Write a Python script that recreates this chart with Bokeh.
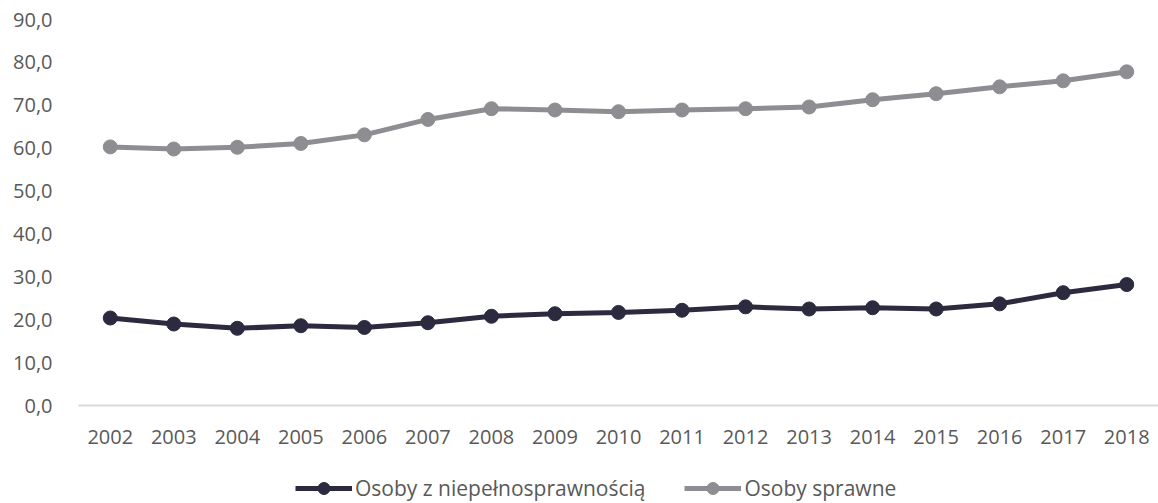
from bokeh.plotting import figure
from bokeh.layouts import column
from bokeh.models import FixedTicker, Legend, LegendItem, Range1d, FactorRange
from bokeh.embed import file_html
from bokeh.resources import INLINE

# Employment rate series, 2002-2018 (%)
years = ["2002", "2003", "2004", "2005", "2006", "2007", "2008", "2009", "2010",
         "2011", "2012", "2013", "2014", "2015", "2016", "2017", "2018"]
disabled = [20.4, 19.0, 18.0, 18.6, 18.2, 19.3, 20.8, 21.4, 21.7,
            22.2, 23.0, 22.5, 22.8, 22.5, 23.7, 26.3, 28.2]
able = [60.3, 59.8, 60.2, 61.1, 63.1, 66.7, 69.2, 68.9, 68.5,
        68.9, 69.2, 69.6, 71.3, 72.7, 74.3, 75.7, 77.8]
y_ticks = [0, 10, 20, 30, 40, 50, 60, 70, 80, 90]

label_disabled = "Osoby z niepełnosprawnością"
label_able = "Osoby sprawne"

dark = "#2c2a3e"
grey = "#8e8d92"
text_col = "#595959"
font = "Open Sans"

# ---- main chart ----
p = figure(width=1158, height=458, x_range=FactorRange(*years),
           y_range=Range1d(0, 90), output_backend="svg", toolbar_location=None,
           min_border_left=78, min_border_right=0, min_border_top=19,
           min_border_bottom=53)
p.outline_line_color = None
p.xgrid.visible = False
p.ygrid.visible = False
p.x_range.range_padding = 0

p.line(years, able, line_color=grey, line_width=5)
p.scatter(years, able, size=14, fill_color=grey, line_color=grey)
p.line(years, disabled, line_color=dark, line_width=5)
p.scatter(years, disabled, size=14, fill_color=dark, line_color=dark)

p.yaxis.ticker = FixedTicker(ticks=y_ticks)
p.yaxis.major_label_overrides = {t: f"{t:.1f}".replace(".", ",") for t in y_ticks}
p.yaxis.axis_line_color = None
p.yaxis.major_tick_line_color = None
p.yaxis.minor_tick_line_color = None
p.yaxis.major_label_standoff = 20
p.yaxis.major_label_text_font = font
p.yaxis.major_label_text_font_size = "20px"
p.yaxis.major_label_text_color = text_col

p.xaxis.axis_line_color = "#d9d9d9"
p.xaxis.axis_line_width = 2
p.xaxis.major_tick_line_color = None
p.xaxis.minor_tick_line_color = None
p.xaxis.major_label_standoff = 18
p.xaxis.major_label_text_font = font
p.xaxis.major_label_text_font_size = "20px"
p.xaxis.major_label_text_color = text_col

# ---- legend strip ----
nan = float("nan")
leg = figure(width=1158, height=45, output_backend="svg", toolbar_location=None,
             x_range=Range1d(0, 1), y_range=Range1d(0, 1),
             x_axis_location=None, y_axis_location=None,
             min_border_left=0, min_border_right=0, min_border_top=0,
             min_border_bottom=0)
leg.outline_line_color = None
leg.grid.visible = False
key_dis_line = leg.line([nan], [nan], line_color=dark, line_width=5)
key_dis_pts = leg.scatter([nan], [nan], size=14, fill_color=dark, line_color=dark)
key_able_line = leg.line([nan], [nan], line_color=grey, line_width=5)
key_able_pts = leg.scatter([nan], [nan], size=14, fill_color=grey, line_color=grey)

legend = Legend(items=[
    LegendItem(label=label_disabled, renderers=[key_dis_line, key_dis_pts]),
    LegendItem(label=label_able, renderers=[key_able_line, key_able_pts]),
], location=(217, 0), orientation="horizontal")
legend.border_line_color = None
legend.background_fill_alpha = 0
legend.padding = 0
legend.margin = 0
legend.spacing = 39
legend.glyph_width = 57
legend.glyph_height = 30
legend.label_height = 21
legend.label_standoff = 3
legend.label_text_font = font
legend.label_text_font_size = "21px"
legend.label_text_color = text_col
leg.add_layout(legend, "center")

page = column(p, leg, spacing=0)
open("out.html", "w").write(file_html(page, INLINE))
